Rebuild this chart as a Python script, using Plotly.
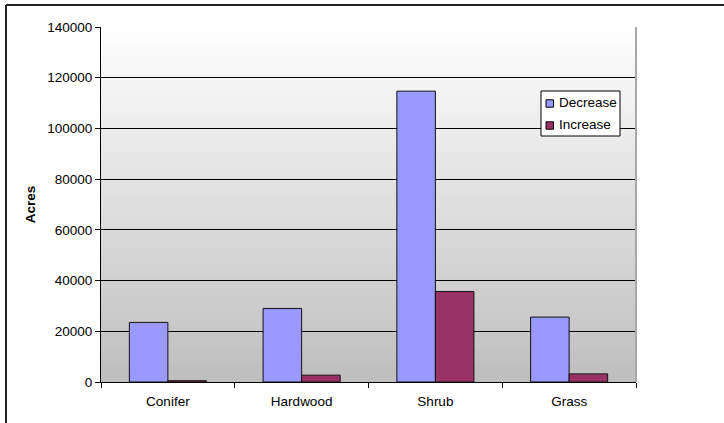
import plotly.graph_objects as go

# Land cover change by vegetation class (acres)
categories = ["Conifer", "Hardwood", "Shrub", "Grass"]
decrease = [23500, 29000, 114700, 25600]
increase = [500, 2700, 35700, 3200]
y_ticks = [0, 20000, 40000, 60000, 80000, 100000, 120000, 140000]

series_names = ["Decrease", "Increase"]
series_colors = ["#9999FF", "#993366"]

FONT = "Arial, Liberation Sans, sans-serif"
FS = 13.5

fig = go.Figure()
for name, vals, col in zip(series_names, [decrease, increase], series_colors):
    fig.add_trace(go.Bar(
        name=name, x=categories, y=vals,
        marker=dict(color=col, line=dict(color="#111111", width=1)),
    ))

# Plot area geometry in pixels (used to place the frame and legend box)
W, H = 724, 423
L, R, T, B = 101, 88, 27, 41
pw, ph = W - L - R, H - T - B


def px_x(x):
    return (x - L) / pw


def px_y(y):
    return (H - B - y) / ph


# Vertical white-to-grey gradient behind the plot area, built from thin bands
shapes = []
n_bands = 120
top = (255, 255, 255)
bottom = (190, 190, 190)
for i in range(n_bands):
    t = (i + 0.5) / n_bands
    c = [round(top[k] + (bottom[k] - top[k]) * t) for k in range(3)]
    y1 = 1 - i / n_bands
    y0 = 1 - (i + 1) / n_bands
    shapes.append(dict(
        type="rect", xref="x domain", yref="y domain",
        x0=0, x1=1, y0=y0 - 0.001, y1=y1 + 0.001,
        fillcolor=f"rgb({c[0]},{c[1]},{c[2]})",
        line=dict(width=0), layer="below",
    ))

# Grey right edge of the plot area
shapes.append(dict(
    type="line", xref="x domain", yref="y domain",
    x0=1, x1=1, y0=0, y1=1,
    line=dict(color="#A8A8A8", width=2), layer="above",
))

# Outer chart frame (top and left edges)
shapes.append(dict(
    type="line", xref="paper", yref="paper",
    x0=px_x(6), x1=px_x(740), y0=px_y(5), y1=px_y(5),
    line=dict(color="#222222", width=2),
))
shapes.append(dict(
    type="line", xref="paper", yref="paper",
    x0=px_x(6), x1=px_x(6), y0=px_y(440), y1=px_y(5),
    line=dict(color="#222222", width=2),
))

# Legend box with small square keys
annotations = []
shapes.append(dict(
    type="rect", xref="paper", yref="paper",
    x0=px_x(541), x1=px_x(620), y0=px_y(136), y1=px_y(91),
    fillcolor="#FFFFFF", line=dict(color="#000000", width=1), layer="above",
))
for i, (name, col) in enumerate(zip(series_names, series_colors)):
    cy = 103.5 + i * 22
    shapes.append(dict(
        type="rect", xref="paper", yref="paper",
        x0=px_x(546), x1=px_x(553.5), y0=px_y(cy + 3.7), y1=px_y(cy - 3.7),
        fillcolor=col, line=dict(color="#000000", width=1), layer="above",
    ))
    annotations.append(dict(
        text=name, xref="paper", yref="paper",
        x=px_x(557), y=px_y(cy - 1), xanchor="left", yanchor="middle",
        showarrow=False, font=dict(family=FONT, size=FS, color="#000000"),
    ))

fig.update_layout(
    width=W, height=H,
    margin=dict(l=L, r=R, t=T, b=B, pad=0),
    paper_bgcolor="#FFFFFF",
    plot_bgcolor="rgba(0,0,0,0)",
    font=dict(family=FONT, size=FS, color="#000000"),
    barmode="group",
    bargap=0.424,
    bargroupgap=0,
    showlegend=False,
    shapes=shapes,
    annotations=annotations,
    xaxis=dict(
        type="category",
        showline=True, linecolor="#000000", linewidth=1,
        ticks="outside", ticklen=5, tickcolor="#000000",
        tickson="boundaries",
        ticklabelstandoff=7,
        showgrid=False, zeroline=False,
        tickfont=dict(family=FONT, size=FS, color="#000000"),
        range=[-0.5, 3.5],
    ),
    yaxis=dict(
        range=[0, 140000],
        tickvals=y_ticks,
        ticktext=[str(v) for v in y_ticks],
        showline=True, linecolor="#000000", linewidth=1,
        ticks="outside", ticklen=5, tickcolor="#000000",
        showgrid=True, gridcolor="#000000", gridwidth=1,
        zeroline=False,
        tickfont=dict(family=FONT, size=FS, color="#000000"),
        title=dict(text="<b>Acres</b>", font=dict(family=FONT, size=FS, color="#000000"), standoff=8),
    ),
)

fig.write_html("out.html")
